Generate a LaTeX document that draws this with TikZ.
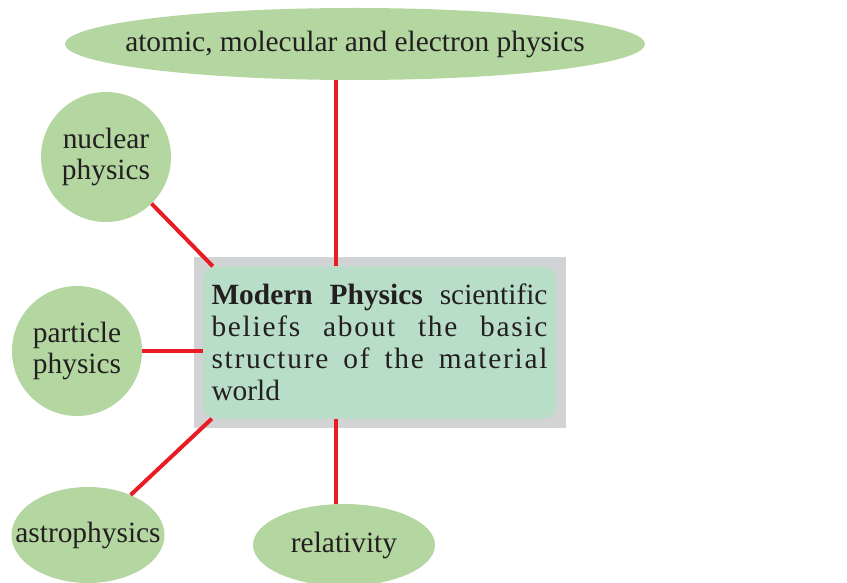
\documentclass[tikz,border=0pt]{standalone}
\usepackage{fontspec}
\setmainfont{Liberation Serif}
\usetikzlibrary{shapes.geometric,calc}
\definecolor{leafgreen}{RGB}{180,214,160}
\definecolor{mintgreen}{RGB}{185,222,199}
\definecolor{framegray}{RGB}{210,211,213}
\definecolor{linkred}{RGB}{232,28,36}
\definecolor{inkblack}{RGB}{35,31,32}
\tikzset{
  bubble/.style={circle, fill=leafgreen, inner sep=0pt, minimum size=130bp, align=center, text=inkblack, font=\fontsize{29.5}{32}\selectfont},
  oval/.style={ellipse, fill=leafgreen, inner sep=0pt, text=inkblack, font=\fontsize{29.5}{32}\selectfont},
  frm/.style={rectangle, fill=framegray, inner sep=0pt, minimum width=372bp, minimum height=171bp},
  core/.style={rectangle, rounded corners=12bp, fill=mintgreen, inner xsep=8.5bp, inner ysep=0pt, minimum height=152bp, text width=336bp, align=justify, text=inkblack, font=\fontsize{29.5}{32}\selectfont},
  link/.style={draw=linkred, line width=4bp},
}

\begin{document}
\begin{tikzpicture}[x=1bp, y=-1bp]
\useasboundingbox (0,0) rectangle (847,583);

% Outer topics
\node[oval, minimum width=580bp, minimum height=72bp] (aml) at (355,44)
  {\makebox[0pt]{atomic, molecular and electron physics}};
\node[bubble] (nuc) at (106,157) {nuclear\\physics};
\node[bubble] (part) at (77,351) {particle\\physics};
\node[oval, minimum width=153bp, minimum height=96bp] (astro) at (88,535)
  {\makebox[0pt]{astrophysics}};
\node[oval, minimum width=182bp, minimum height=82bp] (rel) at (344,545)
  {\makebox[0pt]{relativity}};

% Central box
\node[frm] (frame) at (379.5,342.5) {};
\node[core] (core) at (frame)
  {\textbf{Modern Physics} scientific\linebreak
   {\addfontfeature{LetterSpace=6}beliefs about the basic}\linebreak
   {\addfontfeature{LetterSpace=6}structure of the material}\linebreak
   world};

% Links
\coordinate (spine) at (336,342);
\draw[link] (spine |- aml.south) -- (spine |- core.north);
\draw[link] (nuc) -- ($(core.north west)+(10,0)$);
\draw[link] (part) -- (part -| core.west);
\draw[link] (astro) -- ($(core.south west)+(9,0)$);
\draw[link] (spine |- core.south) -- (spine |- rel.north);

\end{tikzpicture}
\end{document}
